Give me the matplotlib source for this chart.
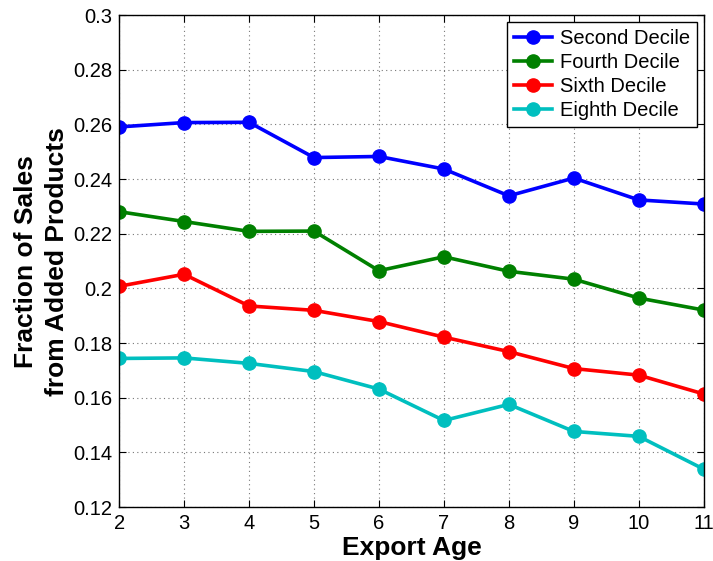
import matplotlib
matplotlib.use("Agg")
import matplotlib.pyplot as plt
from matplotlib.ticker import FuncFormatter

plt.rcParams['font.family'] = ['Liberation Sans', 'DejaVu Sans']

export_age = [2, 3, 4, 5, 6, 7, 8, 9, 10, 11]
second = [0.2591, 0.2607, 0.2608, 0.2479, 0.2483, 0.2437, 0.2339, 0.2404, 0.2324, 0.2309]
fourth = [0.2281, 0.2245, 0.2209, 0.2210, 0.2065, 0.2116, 0.2063, 0.2034, 0.1965, 0.1921]
sixth = [0.2008, 0.2052, 0.1936, 0.1920, 0.1879, 0.1822, 0.1769, 0.1707, 0.1683, 0.1614]
eighth = [0.1744, 0.1746, 0.1726, 0.1696, 0.1632, 0.1517, 0.1576, 0.1477, 0.1459, 0.1339]

series = [
    ("Second Decile", second, "#0000ff"),
    ("Fourth Decile", fourth, "#008000"),
    ("Sixth Decile", sixth, "#ff0000"),
    ("Eighth Decile", eighth, "#00bfbf"),
]

fig = plt.figure(figsize=(7.13, 5.61), dpi=100)
ax = fig.add_axes([0.167, 0.096, 0.820, 0.877])

for name, vals, col in series:
    ax.plot(export_age, vals, color=col, lw=2.6, marker='o', ms=9.5, label=name)

ax.set_xlim(2, 11)
ax.set_ylim(0.12, 0.3)
ax.set_xticks(export_age)
ax.set_yticks([0.12, 0.14, 0.16, 0.18, 0.2, 0.22, 0.24, 0.26, 0.28, 0.3])
ax.yaxis.set_major_formatter(FuncFormatter(lambda v, p: "%g" % round(v, 2)))
ax.tick_params(direction='in', top=True, right=True, labelsize=14.5, length=5, pad=5)
ax.grid(True, linestyle=(0, (1, 3)), color='#777777', lw=0.8)
for s in ax.spines.values():
    s.set_linewidth(1.0)

ax.set_xlabel("Export Age", fontsize=19, fontweight='bold', labelpad=2)
ax.set_ylabel("Fraction of Sales\nfrom Added Products", fontsize=19, fontweight='bold',
              labelpad=3, linespacing=1.35)

leg = ax.legend(loc='upper right', fontsize=14.5, fancybox=False, framealpha=1,
                edgecolor='black', borderpad=0.35, labelspacing=0.25, handlelength=1.9,
                handletextpad=0.35, borderaxespad=0.35)
leg.get_frame().set_linewidth(1.0)

fig.savefig("out.png", dpi=100)
